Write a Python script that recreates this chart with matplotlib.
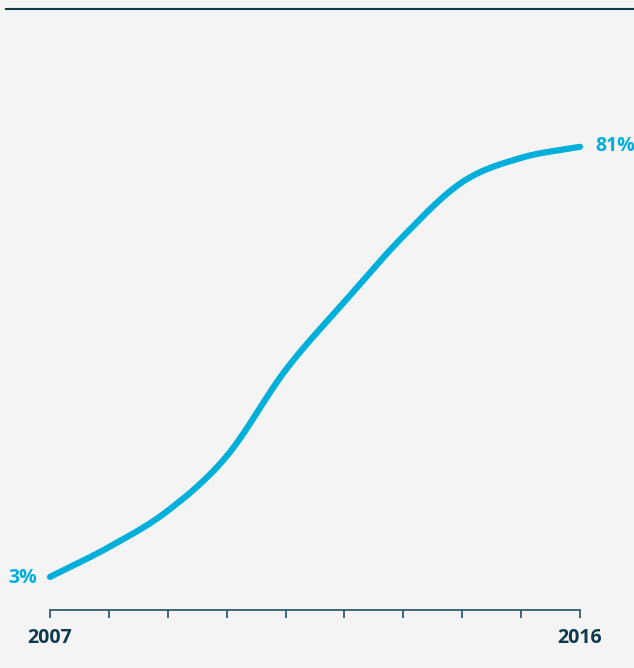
import numpy as np
import matplotlib
matplotlib.use("Agg")
import matplotlib.pyplot as plt
from matplotlib.lines import Line2D

years = [2007, 2008, 2009, 2010, 2011, 2012, 2013, 2014, 2015, 2016]
values = [3, 8.4, 15.0, 24.9, 40.5, 52.9, 64.8, 74.6, 79.0, 81]
tick_labels = {2007: "2007", 2016: "2016"}

LINE = "#00b0da"
NAVY = "#0f3a4e"
AXIS = "#2f5e72"
BG = "#f4f4f4"


def monotone(x, y, n=400):
    x = np.asarray(x, float)
    y = np.asarray(y, float)
    h = np.diff(x)
    d = np.diff(y) / h
    m = np.zeros_like(y)
    m[0], m[-1] = d[0], d[-1]
    for i in range(1, len(x) - 1):
        if d[i - 1] * d[i] <= 0:
            m[i] = 0
        else:
            m[i] = (d[i - 1] * h[i] + d[i] * h[i - 1]) / (h[i - 1] + h[i])
            m[i] = np.sign(m[i]) * min(abs(m[i]), 3 * abs(d[i - 1]), 3 * abs(d[i]))
    xs = np.linspace(x[0], x[-1], n)
    idx = np.clip(np.searchsorted(x, xs) - 1, 0, len(x) - 2)
    t = (xs - x[idx]) / h[idx]
    h00 = 2 * t**3 - 3 * t**2 + 1
    h10 = t**3 - 2 * t**2 + t
    h01 = -2 * t**3 + 3 * t**2
    h11 = t**3 - t**2
    ys = h00 * y[idx] + h10 * h[idx] * m[idx] + h01 * y[idx + 1] + h11 * h[idx] * m[idx + 1]
    return xs, ys


W, H = 634, 668
fig = plt.figure(figsize=(W / 100, H / 100), dpi=100, facecolor=BG)
ax = fig.add_axes([50 / W, (H - 610) / H, 530 / W, 590 / H])
ax.set_facecolor(BG)

xs, ys = monotone(years, values)
ax.plot(xs, ys, color=LINE, lw=4.5, solid_capstyle="round", clip_on=False)

ax.set_xlim(years[0], years[-1])
ax.set_ylim(-3.0, 104.0)

for s in ["top", "right", "left"]:
    ax.spines[s].set_visible(False)
ax.spines["bottom"].set_color(AXIS)
ax.spines["bottom"].set_linewidth(1.3)
ax.set_yticks([])
ax.set_xticks(years)
ax.set_xticklabels([tick_labels.get(y, "") for y in years])
ax.tick_params(axis="x", colors=AXIS, length=6, width=1.3, pad=7)
for lab in ax.get_xticklabels():
    lab.set_color(NAVY)
    lab.set_fontfamily("Open Sans")
    lab.set_fontweight("bold")
    lab.set_fontsize(14)

ax.annotate(f"{values[0]:g}%", (years[0], values[0]), xytext=(-13, -1),
            textcoords="offset pixels", ha="right", va="center",
            color=LINE, fontsize=14, fontweight="bold", family="Open Sans")
ax.annotate(f"{values[-1]:g}%", (years[-1], values[-1]), xytext=(15, 1),
            textcoords="offset pixels", ha="left", va="center",
            color=LINE, fontsize=14, fontweight="bold", family="Open Sans")

fig.add_artist(Line2D([6 / W, 1], [1 - 8.5 / H, 1 - 8.5 / H], color="#0d3a4c",
                      lw=1.5, transform=fig.transFigure))

fig.savefig("out.png", dpi=100, facecolor=BG)
